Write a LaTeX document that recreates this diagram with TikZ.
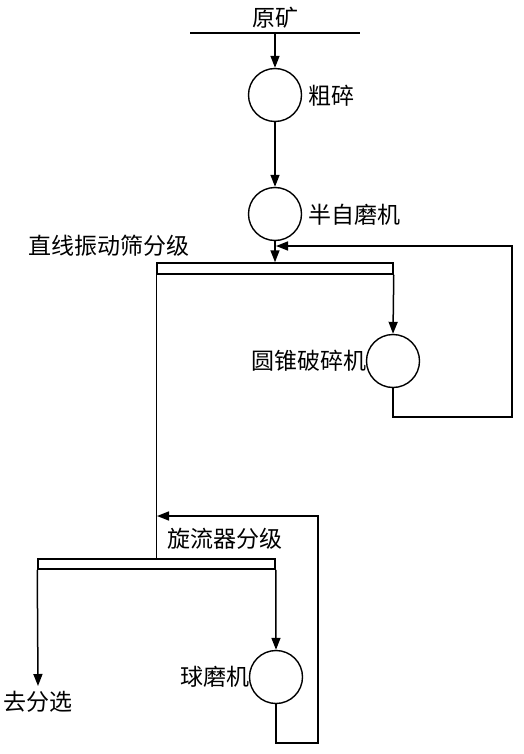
\documentclass[tikz,border=0pt]{standalone}
\usepackage{fontspec}
\newfontfamily\cjk{Noto Sans CJK SC}
\usetikzlibrary{arrows.meta}
\tikzset{
  flow/.style={line width=1.5pt, draw=black},
  arr/.style={flow, -{Triangle[width=9pt,length=12pt]}},
  mill/.style={circle, draw=black, line width=1.4pt, minimum size=53pt, inner sep=0pt},
  bar/.style={rectangle, draw=black, line width=1.5pt, inner sep=0pt},
  lbl/.style={font=\cjk\fontsize{23}{25}\selectfont, inner sep=0pt, text=black}
}
\begin{document}
\begin{tikzpicture}[x=1pt,y=-1pt]
\useasboundingbox (0,0) rectangle (524,754);
% feed line
\coordinate (fl) at (190,33);
\coordinate (fr) at (360,33);
\coordinate (f) at (275,33);
\draw[flow] (fl) -- (fr);
\node[lbl] (tfeed) at (275,18) {原矿};
% mills
\node[mill] (c1) at (275,95) {};
\node[lbl] (t1) at (331,96) {粗碎};
\node[mill] (c2) at (275,214) {};
\node[lbl] (t2) at (354,215) {半自磨机};
% screen
\node[bar, minimum width=236pt, minimum height=11pt] (scr) at (275,268.5) {};
\node[lbl] (tscr) at (109,246) {直线振动筛分级};
% cone crusher
\node[mill] (c3) at (393,361) {};
\node[lbl, anchor=east] (t3) at ([xshift=1pt]c3.west) {圆锥破碎机};
% cyclone
\node[bar, minimum width=237pt, minimum height=10pt] (cyc) at (156.5,564) {};
\node[lbl] (tcyc) at (225,539) {旋流器分级};
% ball mill
\node[mill] (c5) at (276,677) {};
\node[lbl, anchor=east] (t5) at ([xshift=1pt]c5.west) {球磨机};
% product
\node[lbl] (tout) at (38,702) {去分选};
\coordinate (outend) at (38,686);
% return coordinates
\coordinate (r1) at (276,246);
\coordinate (r2) at (512,246);
\coordinate (r3) at (512,417);
\coordinate (b1) at (157,516);
\coordinate (b2) at (318,516);
\coordinate (b3) at (318,743);
% connectors
\draw[arr] (f) -- (c1.north);
\draw[arr] (c1.south) -- (c2.north);
\draw[arr] (c2.south) -- (c2.south |- scr.north);
\draw[arr] (c3.south) |- (r3) -- (r2) -- (r1);
\draw[arr] (scr.south east) -- (c3.north);
\draw[flow] (scr.south west) -- (scr.south west |- cyc.north);
\draw[arr] (c5.south) |- (b3) -- (b2) -- (b1);
\draw[arr] (cyc.south west) -- (outend);
\draw[arr] (cyc.south east) -- (c5.north);
\end{tikzpicture}
\end{document}
